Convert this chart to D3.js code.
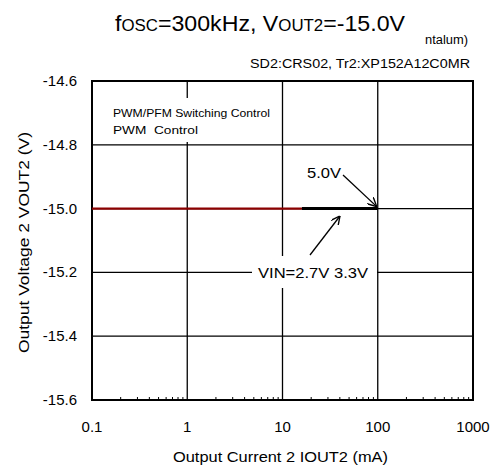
<!DOCTYPE html>
<html><head><meta charset="utf-8">
<script src="https://cdn.jsdelivr.net/npm/d3@7"></script>
<style>body{margin:0;background:#fff}svg{display:block;font-family:"Liberation Sans",Arial,sans-serif}</style>
</head><body><svg id="c" width="492" height="467"></svg>
<script>
const xTicks = [0.1, 1, 10, 100, 1000];
const xTickLabels = ["0.1", "1", "10", "100", "1000"];
const yTicks = [-14.6, -14.8, -15.0, -15.2, -15.4, -15.6];
const yTickLabels = ["-14.6", "-14.8", "-15.0", "-15.2", "-15.4", "-15.6"];
const vin27X = [0.1, 0.2, 0.5, 1, 2, 5, 10, 16];
const vin27Y = [-15.0, -15.0, -15.0, -15.0, -15.0, -15.0, -15.0, -15.0];
const vin50X = [16, 20, 50, 100];
const vin50Y = [-15.0, -15.0, -15.0, -15.0];

const svg = d3.select("#c");
const L = 92, R = 473, T = 81, B = 400;
const x = d3.scaleLog().domain([0.1, 1000]).range([L, R]);
const y = d3.scaleLinear().domain([-15.6, -14.6]).range([B, T]);

// grid
const g = svg.append("g");
g.selectAll(".vg").data(xTicks).enter().append("line")
  .attr("x1", d => x(d)).attr("x2", d => x(d)).attr("y1", T).attr("y2", B)
  .attr("stroke", "#000").attr("stroke-width", 1.3);
g.selectAll(".hg").data(yTicks).enter().append("line")
  .attr("x1", L).attr("x2", R).attr("y1", d => y(d)).attr("y2", d => y(d))
  .attr("stroke", "#000").attr("stroke-width", 1.3);

// minor ticks on bottom
const minors = [];
[0.1, 1, 10, 100].forEach(dec => { for (let k = 2; k <= 9; k++) minors.push(dec * k); });
g.selectAll(".mt").data(minors).enter().append("line")
  .attr("x1", d => x(d)).attr("x2", d => x(d)).attr("y1", B).attr("y2", B - 3)
  .attr("stroke", "#000").attr("stroke-width", 1);

// white label boxes
svg.append("rect").attr("x", 100).attr("y", 98).attr("width", 175).attr("height", 44).attr("fill", "#fff");
svg.append("rect").attr("x", 252).attr("y", 256).attr("width", 125).attr("height", 32).attr("fill", "#fff");

// frame
svg.append("rect").attr("x", L).attr("y", T).attr("width", R - L).attr("height", B - T)
  .attr("fill", "none").attr("stroke", "#000").attr("stroke-width", 2);

// series
const line = d3.line().x(d => x(d[0])).y(d => y(d[1]));
svg.append("path").datum(d3.zip(vin50X, vin50Y)).attr("d", line)
  .attr("fill", "none").attr("stroke", "#000").attr("stroke-width", 3);
svg.append("path").datum(d3.zip(vin27X, vin27Y)).attr("d", line)
  .attr("fill", "none").attr("stroke", "#8b0000").attr("stroke-width", 2.2);

// axis labels
const yAxisLabels = svg.append("g").attr("font-size", 15).attr("fill", "#000");
yAxisLabels.selectAll("text").data(yTicks).enter().append("text")
  .attr("x", 77).attr("y", d => y(d) + 5).attr("text-anchor", "end")
  .text((d, i) => yTickLabels[i]);
const xAxisLabels = svg.append("g").attr("font-size", 15);
xAxisLabels.selectAll("text").data(xTicks).enter().append("text")
  .attr("x", d => x(d)).attr("y", 432).attr("text-anchor", "middle")
  .text((d, i) => xTickLabels[i]);

svg.append("text").attr("x", 173).attr("y", 462)
  .attr("font-size", 14.5).attr("textLength", 215).attr("lengthAdjust", "spacingAndGlyphs")
  .text("Output Current 2 IOUT2 (mA)");
svg.append("text").attr("transform", "translate(29,353) rotate(-90)")
  .attr("font-size", 14.5).attr("textLength", 221).attr("lengthAdjust", "spacingAndGlyphs")
  .text("Output Voltage 2 VOUT2 (V)");

// title
svg.append("text").attr("x", 425).attr("y", 44).attr("font-size", 12.5)
  .attr("textLength", 43).attr("lengthAdjust", "spacingAndGlyphs").text("ntalum)");
const title = svg.append("text").attr("x", 115).attr("y", 31).attr("font-size", 22)
  .attr("textLength", 290).attr("lengthAdjust", "spacingAndGlyphs");
title.append("tspan").text("f");
title.append("tspan").attr("font-size", 16).text("OSC");
title.append("tspan").text("=300kHz, V");
title.append("tspan").attr("font-size", 16).text("OUT2");
title.append("tspan").text("=-15.0V");
svg.append("text").attr("x", 250).attr("y", 68).attr("font-size", 12.5)
  .attr("textLength", 220).attr("lengthAdjust", "spacingAndGlyphs")
  .text("SD2:CRS02, Tr2:XP152A12C0MR");

// annotations
svg.append("text").attr("x", 113).attr("y", 117).attr("font-size", 11)
  .attr("textLength", 157).attr("lengthAdjust", "spacingAndGlyphs").text("PWM/PFM Switching Control");
svg.append("text").attr("x", 113).attr("y", 134).attr("font-size", 11).style("white-space", "pre")
  .attr("textLength", 85).attr("lengthAdjust", "spacingAndGlyphs").text("PWM  Control");
svg.append("text").attr("x", 307).attr("y", 178).attr("font-size", 15)
  .attr("textLength", 34).attr("lengthAdjust", "spacingAndGlyphs").text("5.0V");
svg.append("text").attr("x", 258).attr("y", 278).attr("font-size", 15)
  .attr("textLength", 110).attr("lengthAdjust", "spacingAndGlyphs").text("VIN=2.7V 3.3V");

svg.append("defs").append("marker").attr("id", "ah").attr("viewBox", "0 0 10 10")
  .attr("refX", 10).attr("refY", 5).attr("markerWidth", 9).attr("markerHeight", 9)
  .attr("markerUnits", "userSpaceOnUse").attr("orient", "auto")
  .append("path").attr("d", "M0,0 L10,5 L0,10").attr("fill", "none").attr("stroke", "#000").attr("stroke-width", 1.5);
svg.append("line").attr("x1", 343).attr("y1", 175).attr("x2", x(100) - 1).attr("y2", y(-15.0) - 2)
  .attr("stroke", "#000").attr("stroke-width", 1.3).attr("marker-end", "url(#ah)");
svg.append("line").attr("x1", 310).attr("y1", 255).attr("x2", 340).attr("y2", 216)
  .attr("stroke", "#000").attr("stroke-width", 1.3).attr("marker-end", "url(#ah)");
</script></body></html>
